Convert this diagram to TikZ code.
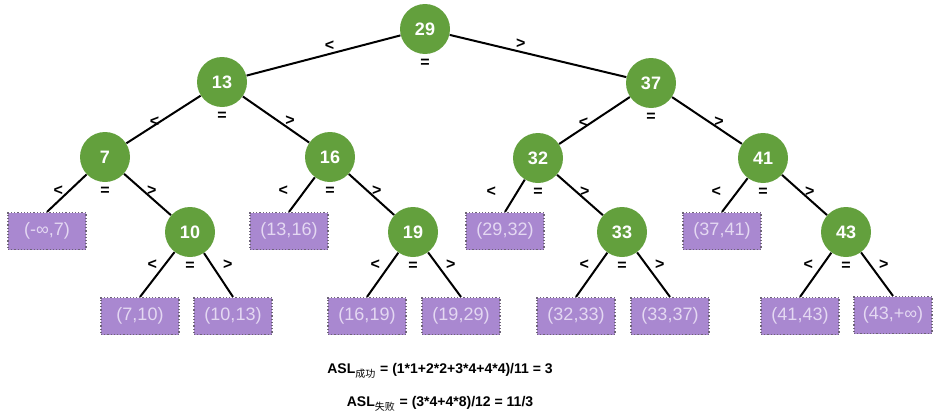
\documentclass[tikz,border=0pt]{standalone}
\usepackage{fontspec}
\setmainfont{Liberation Sans}
\newfontfamily\cjk{Noto Sans CJK SC}
\usetikzlibrary{positioning}
\definecolor{keygreen}{HTML}{63A03D}
\definecolor{gapfill}{HTML}{A988D0}
\definecolor{gaptext}{HTML}{E4D8F2}
\definecolor{gapline}{HTML}{6E6478}
\begin{document}
\begin{tikzpicture}
[x=0.5pt,y=-0.5pt,
key/.style={shape=circle,fill=keygreen,text=white,minimum size=25pt,inner sep=0pt,font=\fontsize{9}{9}\selectfont\bfseries},
gap/.style={shape=rectangle,fill=gapfill,draw=gapline,densely dotted,line width=0.6pt,text=gaptext,minimum width=39pt,minimum height=18.5pt,inner sep=0pt,font=\fontsize{9}{9}\selectfont},
sym/.style={text=black,fill=none,draw=none,inner sep=1pt,font=\fontsize{8}{8}\selectfont\bfseries},
branch/.style n args={3}{label={[sym,label distance=#3]#1:<},label={[sym,label distance=#3]#2:>},label={[sym,label distance=1pt]below:{=}}},
myedge/.style={line width=1pt},
formula/.style={font=\fontsize{7}{8}\selectfont\bfseries}]

\useasboundingbox (0,0) rectangle (936,412);

\node (n29) [key,branch={-174.6}{-5.4}{31.8pt}] at (425,29) {29};
\node (n13) [key,branch={-152.4}{-27.6}{21.5pt}] at (222,82) {13};
\node (n37) [key,branch={-152.4}{-27.6}{21.5pt}] at (651,83) {37};
\node (n7) [key,branch={-146}{-34}{11.2pt}] at (105,157) {7};
\node (n16) [key,branch={-146}{-34}{11.2pt}] at (330,157) {16};
\node (n32) [key,branch={-146}{-34}{11.2pt}] at (538,158) {32};
\node (n41) [key,branch={-146}{-34}{11.2pt}] at (763,158) {41};
\node (n10) [key,branch={-140}{-40}{7.3pt}] at (190,232) {10};
\node (n19) [key,branch={-140}{-40}{7.3pt}] at (413,232) {19};
\node (n33) [key,branch={-140}{-40}{7.3pt}] at (622,232) {33};
\node (n43) [key,branch={-140}{-40}{7.3pt}] at (846,232) {43};

\node (g1) [gap] at (47,231) {(-∞,7)};
\node (g2) [gap] at (140,316) {(7,10)};
\node (g3) [gap] at (233,316) {(10,13)};
\node (g4) [gap] at (289,231) {(13,16)};
\node (g5) [gap] at (367,316) {(16,19)};
\node (g6) [gap] at (461,316) {(19,29)};
\node (g7) [gap] at (505,231) {(29,32)};
\node (g8) [gap] at (576,316) {(32,33)};
\node (g9) [gap] at (670,316) {(33,37)};
\node (g10) [gap] at (722,231) {(37,41)};
\node (g11) [gap] at (800,316) {(41,43)};
\node (g12) [gap] at (893,315) {(43,+∞)};

\draw[myedge] (n13) -- (n29) -- (n37);
\draw[myedge] (n7) -- (n13) -- (n16);
\draw[myedge] (n32) -- (n37) -- (n41);
\draw[myedge] (g1.north) -- (n7) -- (n10);
\draw[myedge] (g4.north) -- (n16) -- (n19);
\draw[myedge] (g7.north) -- (n32) -- (n33);
\draw[myedge] (g10.north) -- (n41) -- (n43);
\draw[myedge] (g2.north) -- (n10) -- (g3.north);
\draw[myedge] (g5.north) -- (n19) -- (g6.north);
\draw[myedge] (g8.north) -- (n33) -- (g9.north);
\draw[myedge] (g11.north) -- (n43) -- (g12.north);

\node (asl1) [formula] at (440,371) {ASL\textsubscript{\cjk\mdseries 成功} = (1*1+2*2+3*4+4*4)/11 = 3};
\node (asl2) [formula] at (440,404) {ASL\textsubscript{\cjk\mdseries 失败} = (3*4+4*8)/12 = 11/3};

\end{tikzpicture}
\end{document}
